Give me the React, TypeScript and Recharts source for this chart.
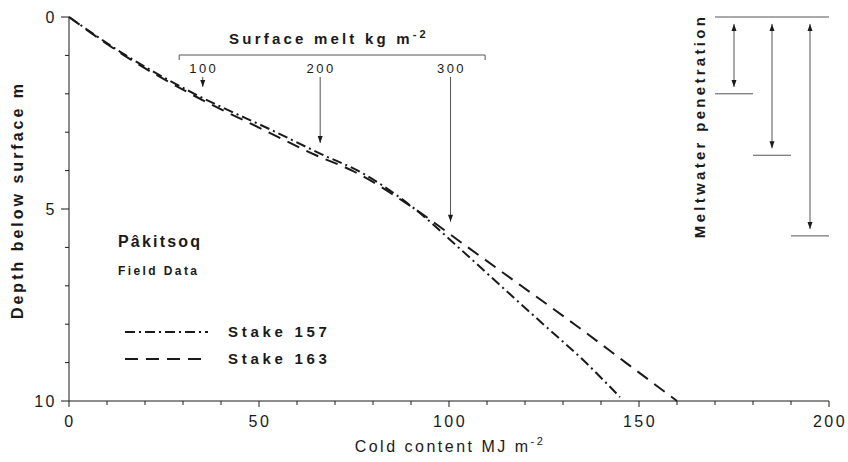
import { LineChart, Line, XAxis, YAxis, ReferenceLine, ReferenceDot } from 'recharts';

// cold content (MJ m-2) at a given depth (m)
const depth157 = [0, 1, 2, 3, 3.6, 4, 5, 6, 7, 8, 9, 9.9];
const cold157 = [0, 15, 33, 54.5, 67, 76, 91, 102.5, 113.6, 124.8, 136, 145];
const depth163 = [0, 1, 2, 3, 3.6, 4, 5, 6, 7, 8, 9, 10];
const cold163 = [0, 14.5, 32, 52.5, 65, 74.5, 91, 105, 119, 133, 146.5, 160];

const xTicks = [0, 10, 20, 30, 40, 50, 60, 70, 80, 90, 100, 110, 120, 130, 140, 150, 160, 170, 180, 190, 200];
const xTickLabels = [0, 50, 100, 150, 200];
const yTicks = [0, 1, 2, 3, 4, 5, 6, 7, 8, 9, 10];
const yTickLabels = [0, 5, 10];

// surface melt scale (kg m-2), its position on the cold content axis, and where its arrows stop
const meltValues = [100, 200, 300];
const meltColdEquiv = [35.2, 66.1, 100.4];
const meltArrowTip = [1.82, 3.28, 5.33];

// meltwater penetration depths (m)
const penetrationDepth = [2.0, 3.6, 5.7];

const FONT = '"Liberation Sans", Arial, Helvetica, sans-serif';
const INK = '#1a1a1a';
const THIN = '#555';

const toPoints = (depths: number[], colds: number[]) =>
  depths.map((d, i) => ({ depth: d, cold: colds[i] }));

const series = [
  { name: 'Stake 157', points: toPoints(depth157, cold157), dash: '10 4 2 4' },
  { name: 'Stake 163', points: toPoints(depth163, cold163), dash: '13 8' },
];

// annotation placement (chart units)
const MELT_LINE_DEPTH = 0.99;
const MELT_LABEL_DEPTH = 1.33;
const MELT_SHAFT_TOP = 1.56;
const MELT_SCALE_FROM = 29;
const MELT_SCALE_TO = 109.5;
const PEN_X0 = 170;
const PEN_STEP = 10;
const PEN_GAP = 0.18;

function XTick(props: any) {
  const { x, y, payload } = props;
  const v = payload.value;
  const major = xTickLabels.includes(v);
  return (
    <g>
      <line x1={x} x2={x} y1={y} y2={y + (major ? 6 : 4)} stroke={INK} strokeWidth={1} />
      {major && (
        <text x={x + 1} y={y + 26} textAnchor="middle" fontSize={16} letterSpacing={2.5} fill={INK} fontFamily={FONT}>
          {v}
        </text>
      )}
    </g>
  );
}

function YTick(props: any) {
  const { x, y, payload } = props;
  const v = payload.value;
  const major = yTickLabels.includes(v);
  return (
    <g>
      <line x1={x - (major ? 8 : 4)} x2={x} y1={y} y2={y} stroke={INK} strokeWidth={1} />
      {major && (
        <text x={x - 12} y={y} dy="0.36em" textAnchor="end" fontSize={16} letterSpacing={2.5} fill={INK} fontFamily={FONT}>
          {v}
        </text>
      )}
    </g>
  );
}

const arrowDown = (p: any) => (
  <path d={`M${p.cx - 2.5},${p.cy - 7} L${p.cx + 2.5},${p.cy - 7} L${p.cx},${p.cy} Z`} fill={INK} />
);
const arrowUp = (p: any) => (
  <path d={`M${p.cx - 2.5},${p.cy + 7} L${p.cx + 2.5},${p.cy + 7} L${p.cx},${p.cy} Z`} fill={INK} />
);

export default function App() {
  return (
    <div style={{ position: 'absolute', left: 0, top: 0, width: 848, height: 462, background: '#fff' }}>
      <LineChart width={848} height={462} margin={{ top: 17, right: 19, bottom: 21, left: 9 }}>
        <XAxis
          type="number"
          dataKey="cold"
          domain={[0, 200]}
          ticks={xTicks}
          interval={0}
          tick={<XTick />}
          tickLine={false}
          tickSize={0}
          tickMargin={0}
          height={40}
          stroke={INK}
        />
        <YAxis
          type="number"
          dataKey="depth"
          domain={[0, 10]}
          reversed
          ticks={yTicks}
          interval={0}
          tick={<YTick />}
          tickLine={false}
          tickSize={0}
          tickMargin={0}
          width={60}
          stroke={INK}
        />

        {/* surface melt scale */}
        <ReferenceLine
          segment={[{ x: MELT_SCALE_FROM, y: MELT_LINE_DEPTH }, { x: MELT_SCALE_TO, y: MELT_LINE_DEPTH }]}
          stroke={THIN}
          strokeWidth={1}
        />
        {[MELT_SCALE_FROM, MELT_SCALE_TO].map((x) => (
          <ReferenceLine
            key={`end-${x}`}
            segment={[{ x, y: MELT_LINE_DEPTH }, { x, y: MELT_LINE_DEPTH + 0.13 }]}
            stroke={THIN}
            strokeWidth={1}
          />
        ))}
        {meltValues.map((m, i) => (
          <ReferenceLine
            key={`shaft-${m}`}
            segment={[{ x: meltColdEquiv[i], y: MELT_SHAFT_TOP }, { x: meltColdEquiv[i], y: meltArrowTip[i] }]}
            stroke={THIN}
            strokeWidth={1}
          />
        ))}
        {meltValues.map((m, i) => (
          <ReferenceDot key={`head-${m}`} x={meltColdEquiv[i]} y={meltArrowTip[i]} shape={arrowDown} />
        ))}
        {meltValues.map((m, i) => (
          <ReferenceDot
            key={`lab-${m}`}
            x={meltColdEquiv[i]}
            y={MELT_LABEL_DEPTH}
            shape={(p: any) => (
              <text x={p.cx + 1} y={p.cy} dy="0.36em" textAnchor="middle" fontSize={13} letterSpacing={2.5} fill={INK} fontFamily={FONT}>
                {m}
              </text>
            )}
          />
        ))}

        {/* meltwater penetration */}
        <ReferenceLine
          segment={[{ x: PEN_X0, y: 0 }, { x: PEN_X0 + PEN_STEP * penetrationDepth.length, y: 0 }]}
          stroke={THIN}
          strokeWidth={1}
        />
        {penetrationDepth.map((d, i) => (
          <ReferenceLine
            key={`pen-${i}`}
            segment={[{ x: PEN_X0 + PEN_STEP * i, y: d }, { x: PEN_X0 + PEN_STEP * (i + 1), y: d }]}
            stroke={THIN}
            strokeWidth={1}
          />
        ))}
        {penetrationDepth.map((d, i) => (
          <ReferenceLine
            key={`pshaft-${i}`}
            segment={[{ x: PEN_X0 + PEN_STEP * (i + 0.5), y: PEN_GAP }, { x: PEN_X0 + PEN_STEP * (i + 0.5), y: d - PEN_GAP }]}
            stroke={THIN}
            strokeWidth={1}
          />
        ))}
        {penetrationDepth.map((d, i) => (
          <ReferenceDot key={`pup-${i}`} x={PEN_X0 + PEN_STEP * (i + 0.5)} y={PEN_GAP} shape={arrowUp} />
        ))}
        {penetrationDepth.map((d, i) => (
          <ReferenceDot key={`pdn-${i}`} x={PEN_X0 + PEN_STEP * (i + 0.5)} y={d - PEN_GAP} shape={arrowDown} />
        ))}

        {series.map((s) => (
          <Line
            key={s.name}
            name={s.name}
            data={s.points}
            dataKey="depth"
            type="monotone"
            stroke={INK}
            strokeWidth={2}
            strokeDasharray={s.dash}
            dot={false}
            isAnimationActive={false}
          />
        ))}
      </LineChart>

      <svg
        width={848}
        height={462}
        style={{ position: 'absolute', left: 0, top: 0, pointerEvents: 'none' }}
        fontFamily={FONT}
        fill={INK}
      >
        <text transform="translate(17,200) rotate(-90)" textAnchor="middle" dy="0.36em" fontSize={16} fontWeight="bold" letterSpacing={3}>
          Depth below surface m
        </text>
        <text x={450} y={452} textAnchor="middle" fontSize={16} letterSpacing={2.5}>
          Cold content MJ m
          <tspan fontSize={11} dy={-7}>-2</tspan>
        </text>
        <text x={329} y={44} textAnchor="middle" fontSize={15} fontWeight="bold" letterSpacing={3.2}>
          Surface melt kg m
          <tspan fontSize={11} dy={-6}>-2</tspan>
        </text>
        <text transform="translate(700,126) rotate(-90)" textAnchor="middle" dy="0.36em" fontSize={15} fontWeight="bold" letterSpacing={3.3}>
          Meltwater penetration
        </text>
        <text x={118} y={247} fontSize={16} fontWeight="bold" letterSpacing={2.2}>
          Pâkitsoq
        </text>
        <text x={118} y={275} fontSize={12} fontWeight="bold" letterSpacing={2.4}>
          Field Data
        </text>
        {series.map((s, i) => (
          <g key={s.name}>
            <line x1={125} x2={208} y1={332 + i * 27} y2={332 + i * 27} stroke={INK} strokeWidth={2} strokeDasharray={s.dash} />
            <text x={228} y={337 + i * 27} fontSize={15} fontWeight="bold" letterSpacing={3.7}>
              {s.name}
            </text>
          </g>
        ))}
      </svg>
    </div>
  );
}
